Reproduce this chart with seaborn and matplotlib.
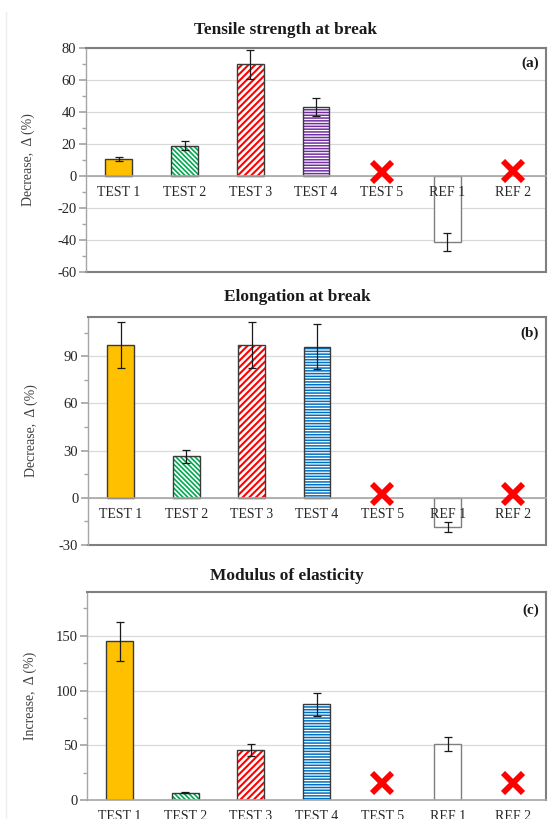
import numpy as np
import matplotlib
matplotlib.use('Agg')
import matplotlib.pyplot as plt
import seaborn as sns
from matplotlib.patches import Rectangle
from matplotlib.ticker import MultipleLocator

sns.set_theme(style='white')
plt.rcParams['font.family'] = ['Liberation Serif', 'DejaVu Serif']
plt.rcParams['axes.unicode_minus'] = False
plt.rcParams['hatch.linewidth'] = 1.2

# ---- data ----
categories = ['TEST 1', 'TEST 2', 'TEST 3', 'TEST 4', 'TEST 5', 'REF 1', 'REF 2']

tensile_vals = [10.4, 19.0, 69.7, 43.2, np.nan, -41.3, np.nan]
tensile_err = [1.3, 2.8, 9.0, 5.5, np.nan, 5.5, np.nan]
tensile_cross = [np.nan, np.nan, np.nan, np.nan, 2.5, np.nan, 3.0]

elong_vals = [97.2, 26.5, 97.2, 96.2, np.nan, -18.6, np.nan]
elong_err = [14.6, 4.2, 14.6, 14.5, np.nan, 3.0, np.nan]
elong_cross = [np.nan, np.nan, np.nan, np.nan, 2.7, np.nan, 2.7]

modulus_vals = [144.8, 6.7, 45.4, 87.5, np.nan, 51.2, np.nan]
modulus_err = [17.7, 0.5, 5.3, 10.4, np.nan, 6.4, np.nan]
modulus_cross = [np.nan, np.nan, np.nan, np.nan, 15.2, np.nan, 15.2]

# ---- styles per category (face, hatch, hatch colour, outline) ----
faces = ['#FFC000', 'white', 'white', 'white', 'white', 'white', 'white']
hatches = [None, '\\\\\\\\\\\\\\', '/////', '------', None, None, None]
hatch_lw = [0, 1.2, 1.5, 1.1, 0, 0, 0]
outline = ['#3a3a3a', '#3a3a3a', '#3a3a3a', '#3a3a3a', '#3a3a3a', '#7f7f7f', '#3a3a3a']
green, red, purple, blue = '#00A84F', '#FF0000', '#7030A0', '#0070C0'

panels = [
    dict(vals=tensile_vals, err=tensile_err, cross=tensile_cross,
         title='Tensile strength at break', tag='(a)', ylabel='Decrease,  \u0394 (%)',
         ylim=(-60, 80), major=20, minor=10, hcol=[None, green, red, purple, None, None, None],
         rect=[86 / 548, 1 - 272 / 819, 460 / 548, 224 / 819], title_xy=(285, 30), tag_y=0.93),
    dict(vals=elong_vals, err=elong_err, cross=elong_cross,
         title='Elongation at break', tag='(b)', ylabel='Decrease,  \u0394 (%)',
         ylim=(-30, 115), major=30, minor=15, hcol=[None, green, red, blue, None, None, None],
         rect=[88 / 548, 1 - 545 / 819, 458 / 548, 228 / 819], title_xy=(297, 297), tag_y=0.93),
    dict(vals=modulus_vals, err=modulus_err, cross=modulus_cross,
         title='Modulus of elasticity', tag='(c)', ylabel='Increase,  \u0394 (%)',
         ylim=(0, 190), major=50, minor=25, hcol=[None, green, red, blue, None, None, None],
         rect=[87 / 548, 1 - 800 / 819, 459 / 548, 208 / 819], title_xy=(287, 576), tag_y=0.91),
]

fig = plt.figure(figsize=(5.48, 8.19), dpi=100)
fig.add_artist(plt.Line2D([6 / 548, 6 / 548], [0, 1 - 12 / 819], color='#eeeeee', lw=1))

for pn in panels:
    ax = fig.add_axes(pn['rect'])
    sns.barplot(x=categories, y=pn['vals'], order=categories, ax=ax,
                color='white', width=0.41, errorbar=None, saturation=1)

    for p in ax.patches[:]:
        h = p.get_height()
        if not np.isfinite(h):
            continue
        i = int(round(p.get_x() + p.get_width() / 2))
        p.set_facecolor(faces[i])
        if hatches[i]:
            p.set_hatch(hatches[i])
            p.set_edgecolor(pn['hcol'][i])
            if hasattr(p, 'set_hatch_linewidth'):
                p.set_hatch_linewidth(hatch_lw[i])
        else:
            p.set_edgecolor(faces[i])
        p.set_linewidth(0)
        ax.add_patch(Rectangle(p.get_xy(), p.get_width(), h, fill=False,
                               edgecolor=outline[i], lw=1.0, zorder=p.get_zorder() + 0.1))

    xs = np.arange(len(categories))
    ax.errorbar(xs, pn['vals'], yerr=pn['err'], fmt='none', ecolor='#1a1a1a',
                elinewidth=0.9, capsize=3, capthick=0.9, zorder=3)
    ax.plot(xs, pn['cross'], linestyle='none', marker='x', ms=14, mew=4.2,
            color='#FF0000', zorder=4, clip_on=False)

    ax.set_ylim(*pn['ylim'])
    ax.set_xlim(-0.5, len(categories) - 0.5)
    ax.yaxis.set_major_locator(MultipleLocator(pn['major']))
    ax.yaxis.set_minor_locator(MultipleLocator(pn['minor']))
    ax.yaxis.grid(True, which='major', color='#d9d9d9', lw=0.9)
    ax.set_axisbelow(True)
    ax.xaxis.set_zorder(3)

    ax.spines['bottom'].set_position(('data', 0))
    ax.spines['bottom'].set_color('#a6a6a6')
    ax.spines['bottom'].set_linewidth(1.2)
    ax.spines['left'].set_color('#a6a6a6')
    ax.spines['left'].set_linewidth(1.0)
    for s in ['top', 'right']:
        ax.spines[s].set_color('#7f7f7f')
        ax.spines[s].set_linewidth(1.5)
    if pn['ylim'][0] < 0:
        ax.plot([0, 1], [0, 0], transform=ax.transAxes, color='#7f7f7f', lw=1.5, clip_on=False)

    ax.tick_params(axis='y', which='both', left=True, direction='out', color='#a6a6a6',
                   labelsize=10.5, labelcolor='#262626', pad=2)
    ax.tick_params(axis='y', which='major', length=5)
    ax.tick_params(axis='y', which='minor', length=3)
    ax.tick_params(axis='x', length=0, pad=7, labelsize=10, labelcolor='#262626')
    ax.set_xlabel('')
    ax.set_ylabel(pn['ylabel'], fontsize=10, color='#404040')
    ax.yaxis.set_label_coords(-0.11, 0.5)

    ax.text(0.985, pn['tag_y'], pn['tag'], transform=ax.transAxes, ha='right', va='center',
            fontsize=11, fontweight='bold', color='#1a1a1a')
    fig.text(pn['title_xy'][0] / 548, 1 - pn['title_xy'][1] / 819, pn['title'],
             ha='center', va='center', fontsize=12.4, fontweight='bold', color='#1a1a1a')

fig.savefig('out.png', dpi=100)
